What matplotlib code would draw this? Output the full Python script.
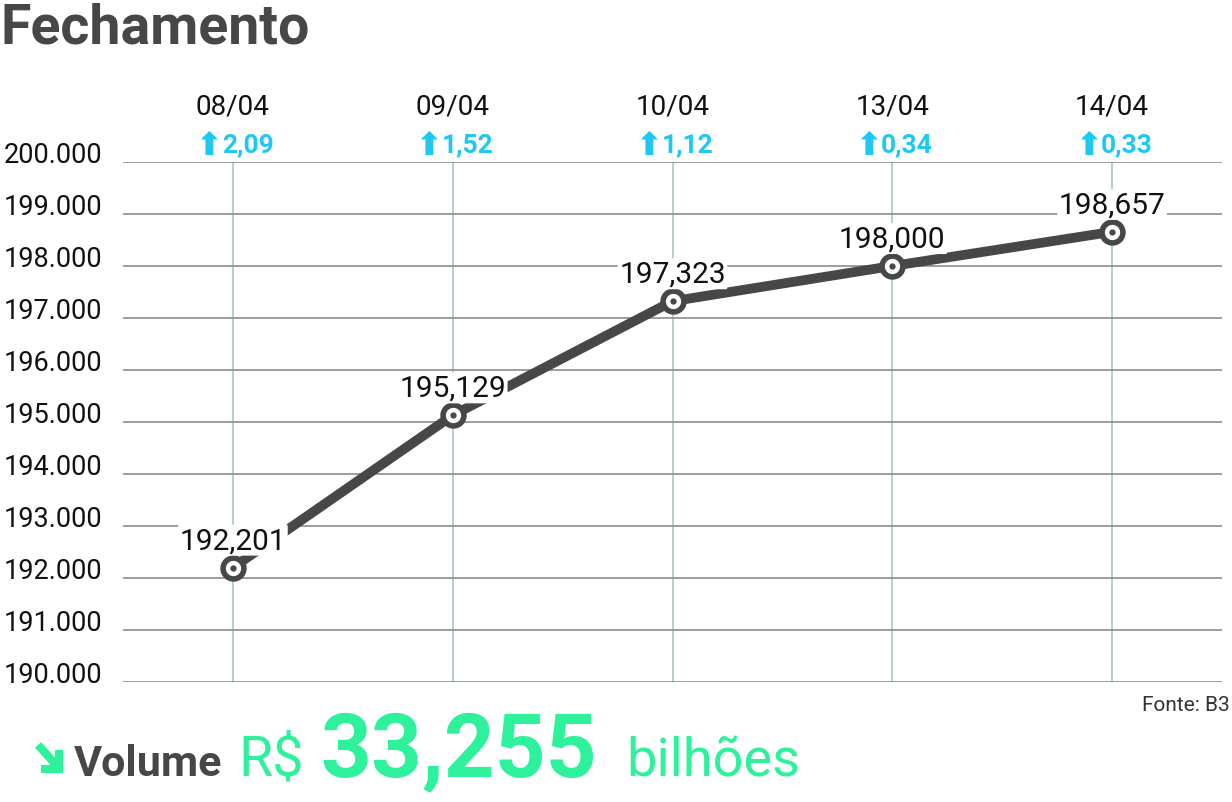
import matplotlib
matplotlib.use("Agg")
import matplotlib.pyplot as plt
import matplotlib.transforms as mtransforms
from matplotlib.patches import Polygon
from matplotlib.lines import Line2D

# data
dates = ["08/04", "09/04", "10/04", "13/04", "14/04"]
closes = [192201, 195129, 197323, 198000, 198657]
close_labels = ["192,201", "195,129", "197,323", "198,000", "198,657"]
changes = ["2,09", "1,52", "1,12", "0,34", "0,33"]
yticks = list(range(190000, 200001, 1000))

GREEN = "#2ef29b"
CYAN = "#1fc8f0"
DARK = "#474747"
ROBOTO = ["Roboto", "DejaVu Sans"]
ARROWS = ["DejaVu Sans"]

W, H = 1232, 803
fig = plt.figure(figsize=(W / 100, H / 100), dpi=100)


def fx(px):
    return px / W


def fy(py):
    return 1 - py / H


ax = fig.add_axes([fx(123), fy(683), fx(1222) - fx(123), fy(163) - fy(683)])
ax.set_xlim(-0.5, 4.5)
ax.set_ylim(190000, 200000)

# grid
ax.set_yticks(yticks)
ax.set_yticklabels([f"{v:,}".replace(",", ".") for v in yticks],
                   fontsize=19.5, family=ROBOTO, color="#111111")
for lbl in ax.get_yticklabels():
    lbl.set_ha("left")
    lbl.set_va("baseline")
ax.tick_params(axis="y", length=0, pad=86)
ax.set_xticks([])
ax.yaxis.grid(True, color="#8c8c8c", linewidth=1.2)
ax.set_axisbelow(True)
for s in ax.spines.values():
    s.set_visible(False)
for i in range(len(dates)):
    ax.axvline(i, color="#9cc3bd", linewidth=1.1, zorder=0)

x = list(range(len(closes)))
ax.plot(x, closes, color=DARK, linewidth=7, solid_capstyle="round", zorder=3)
ax.plot(x, closes, "o", markersize=15, markerfacecolor="white",
        markeredgecolor=DARK, markeredgewidth=4, zorder=4)
ax.plot(x, closes, "o", markersize=3.5, color=DARK, zorder=5)

for i, (v, lab) in enumerate(zip(closes, close_labels)):
    ax.annotate(lab, (i, v), xytext=(0, 14), textcoords="offset points",
                ha="center", va="baseline", fontsize=21.5, family=ROBOTO,
                color="#111111", zorder=6,
                bbox=dict(boxstyle="round,pad=0.05", fc="white", ec="none"))

# header labels over each column
trans = mtransforms.blended_transform_factory(ax.transData, ax.transAxes)
for i, (d, c) in enumerate(zip(dates, changes)):
    ax.text(i, (683 - 107) / 520, d, transform=trans, ha="center", va="center",
            fontsize=20, family=ROBOTO, color="#111111")
    ax.annotate(c, (i, (683 - 145) / 520), xycoords=trans,
                xytext=(-8, 0), textcoords="offset points", ha="left",
                va="center", fontsize=19, family=ROBOTO, weight="bold",
                color=CYAN)
    ax.annotate("\u2b06", (i, (683 - 145) / 520), xycoords=trans,
                xytext=(-7.5, -1), textcoords="offset points", ha="right",
                va="center", fontsize=23, family=ARROWS, weight="bold",
                color=CYAN)

# title and footer
fig.text(fx(0), fy(28), "Fechamento", fontsize=40, weight="bold", color=DARK,
         family=ROBOTO, ha="left", va="center")
fig.text(fx(1230), fy(706), "Fonte: B3", fontsize=15, color="#333333",
         family=ROBOTO, ha="right", va="center")

# green down-right arrow before "Volume" (pixel coordinates)
px = mtransforms.IdentityTransform()
fig.add_artist(Line2D([38, 58], [H - 746, H - 768], color=GREEN,
                      linewidth=6, solid_capstyle="butt", transform=px))
fig.add_artist(Polygon([(41, H - 766), (55, H - 766), (55, H - 751),
                        (63, H - 751), (63, H - 774), (41, H - 774)],
                       closed=True, fc=GREEN, ec="none", transform=px))

base = fy(776)
fig.text(fx(74), base, "Volume", fontsize=31, weight="bold", color=DARK,
         family=ROBOTO, ha="left", va="baseline")
fig.text(fx(238), base, "R$", fontsize=40, color=GREEN, family=ROBOTO,
         ha="left", va="baseline")
fig.text(fx(320), base, "33,255", fontsize=64, weight="bold", color=GREEN,
         family=ROBOTO, ha="left", va="baseline")
fig.text(fx(626), base, "bilh\u00f5es", fontsize=39, color=GREEN, family=ROBOTO,
         ha="left", va="baseline")

fig.savefig("out.png", dpi=100, facecolor="white")
